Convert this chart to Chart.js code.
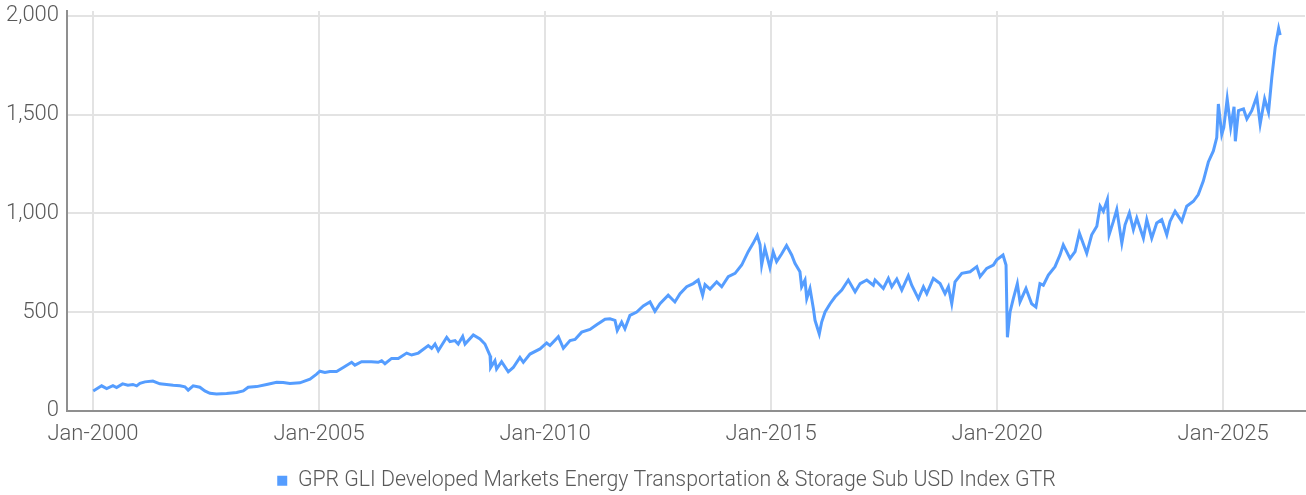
<!DOCTYPE html>
<html>
<head>
<meta charset="utf-8">
<script src="https://cdn.jsdelivr.net/npm/chart.js"></script>
<style>
  html, body { margin: 0; padding: 0; background: #fff; }
  #chart { display: block; }
</style>
</head>
<body>
<canvas id="chart" width="1306" height="495"></canvas>
<script>
const seriesName = 'GPR GLI Developed Markets Energy Transportation & Storage Sub USD Index GTR';

const dates = [
  '2000-01-03','2000-03-10','2000-04-20','2000-06-10','2000-07-09','2000-08-27','2000-10-09','2000-11-19','2000-12-19',
  '2001-01-15','2001-02-25','2001-04-28','2001-06-24','2001-08-17','2001-10-10','2001-12-03',
  '2002-01-13','2002-02-09','2002-03-19','2002-05-12','2002-06-22','2002-08-02','2002-09-25','2002-12-15',
  '2003-03-05','2003-04-28','2003-06-07','2003-08-14','2003-11-04',
  '2004-01-24','2004-03-16','2004-05-09','2004-07-29','2004-10-19','2004-12-12',
  '2005-01-08','2005-02-18','2005-03-28','2005-05-21','2005-07-14','2005-09-21','2005-10-17','2005-12-10',
  '2006-02-28','2006-04-22','2006-05-20','2006-06-16','2006-08-09','2006-10-02','2006-12-09',
  '2007-01-19','2007-03-12','2007-06-01','2007-06-28','2007-07-25','2007-08-21','2007-10-28','2007-11-24',
  '2008-01-04','2008-01-30','2008-03-05','2008-03-24','2008-05-30','2008-07-23','2008-09-02','2008-10-13','2008-10-18','2008-11-22','2008-12-05',
  '2009-01-15','2009-03-08','2009-04-18','2009-06-11','2009-07-08','2009-09-01','2009-11-21',
  '2010-01-14','2010-02-10','2010-04-17','2010-05-27','2010-07-20','2010-08-30','2010-10-23','2010-12-29',
  '2011-02-22','2011-04-29','2011-06-08','2011-07-18','2011-08-06','2011-09-11','2011-10-07','2011-11-17',
  '2012-01-11','2012-03-03','2012-04-27','2012-06-06','2012-07-16','2012-09-22','2012-11-15','2012-12-26',
  '2013-02-19','2013-04-11','2013-05-21','2013-06-26','2013-07-15','2013-08-25','2013-10-18','2013-11-28',
  '2014-01-20','2014-03-14','2014-05-07','2014-06-29','2014-08-09','2014-09-11','2014-10-03','2014-10-16','2014-11-12','2014-12-22',
  '2015-01-18','2015-02-15','2015-03-26','2015-05-04','2015-06-15','2015-07-11','2015-08-21','2015-09-04','2015-10-01','2015-10-15','2015-11-11','2015-12-08','2015-12-21',
  '2016-01-25','2016-02-14','2016-03-11','2016-04-21','2016-06-01','2016-07-24','2016-09-16','2016-11-10','2016-12-20',
  '2017-02-13','2017-04-05','2017-04-19','2017-06-25','2017-08-05','2017-09-02','2017-10-12','2017-11-22',
  '2018-01-14','2018-02-11','2018-04-04','2018-05-14','2018-06-11','2018-08-03','2018-09-27','2018-11-06','2018-12-03','2018-12-30',
  '2019-01-26','2019-03-20','2019-05-26','2019-07-19','2019-08-15','2019-10-08','2019-12-01','2019-12-28',
  '2020-02-18','2020-03-12','2020-03-23','2020-04-14','2020-05-10','2020-06-12','2020-07-03','2020-08-21','2020-10-06','2020-11-10','2020-12-12',
  '2021-01-09','2021-02-19','2021-04-12','2021-05-22','2021-06-18','2021-08-12','2021-09-22','2021-10-26','2021-12-25',
  '2022-02-04','2022-03-15','2022-04-11','2022-05-07','2022-06-09','2022-06-23','2022-07-27','2022-08-24','2022-10-04','2022-10-30','2022-12-04',
  '2023-01-06','2023-02-03','2023-03-26','2023-04-23','2023-06-02','2023-07-12','2023-08-22','2023-10-02','2023-10-28','2023-12-08',
  '2024-02-01','2024-03-11','2024-05-04','2024-06-13','2024-07-23','2024-09-03','2024-10-13','2024-11-10','2024-11-23','2024-12-20',
  '2025-01-06','2025-02-03','2025-03-01','2025-03-28','2025-04-08','2025-05-03','2025-06-13','2025-07-10','2025-08-19','2025-09-29','2025-10-26','2025-12-01',
  '2026-01-02','2026-01-29','2026-02-26','2026-03-23','2026-04-05'
];

const values = [
  100,126,112,127,117,136,129,133,126,
  139,146,150,136,133,129,126,
  121,104,126,119,100,88,85,87,
  92,100,119,122,133,
  144,143,138,141,160,185,
  200,194,199,199,219,245,231,248,
  248,245,253,238,265,265,292,
  282,292,330,316,338,304,372,350,
  355,338,376,338,384,364,338,279,219,253,211,
  248,197,219,270,245,287,313,
  343,330,375,316,355,361,398,412,
  435,463,466,458,407,449,415,483,
  500,531,551,504,542,585,551,593,
  628,644,662,585,639,616,653,628,
  679,696,738,806,849,888,840,738,823,725,
  805,755,795,837,789,747,704,628,662,568,619,517,458,
  389,449,500,542,577,611,662,602,644,
  662,636,662,619,670,628,667,611,
  684,636,568,628,593,670,644,593,628,542,
  653,696,704,730,679,721,738,764,
  789,738,372,500,568,644,551,619,542,525,644,
  636,687,730,789,840,772,806,900,798,
  891,934,1036,1010,1070,891,959,1019,849,942,1002,
  917,976,874,968,874,951,968,891,959,1010,
  959,1036,1061,1095,1163,1260,1316,1384,1554,1400,
  1435,1580,1435,1540,1365,1520,1529,1478,1520,1592,1452,1580,
  1512,1690,1843,1937,1903
];

const xTickYears = [2000, 2005, 2010, 2015, 2020, 2025];
const yTicks = [0, 500, 1000, 1500, 2000];

function toYear(s) {
  const [y, m, d] = s.split('-').map(Number);
  return y + (m - 1) / 12 + (d - 1) / 365.25;
}

const points = dates.map((d, i) => ({ x: toYear(d), y: values[i] }));

const textColor = '#595959';
const gridColor = '#e3e3e3';
const axisColor = '#8f8f8f';
const lineColor = '#559dff';
const fontFamily = 'Roboto, "Noto Sans", sans-serif';

// the original legend sits a little right of the canvas centre
const nudgeLegend = {
  id: 'nudgeLegend',
  afterLayout(chart) {
    const l = chart.legend;
    if (l) { l.left += 14; l.right += 14; }
  }
};

new Chart(document.getElementById('chart').getContext('2d'), {
  type: 'line',
  data: {
    datasets: [{
      label: seriesName,
      data: points,
      borderColor: lineColor,
      backgroundColor: lineColor,
      borderWidth: 3,
      pointRadius: 0,
      tension: 0
    }]
  },
  options: {
    responsive: false,
    animation: false,
    layout: { padding: { top: 11, right: 1, left: 0, bottom: -6.5 } },
    plugins: {
      tooltip: { enabled: false },
      legend: {
        position: 'bottom',
        labels: {
          color: textColor,
          font: { family: fontFamily, size: 21.3, weight: '300' },
          boxWidth: 10,
          boxHeight: 10,
          padding: 2,
          generateLabels: (chart) => [{
            text: seriesName,
            fillStyle: lineColor,
            strokeStyle: lineColor,
            lineWidth: 0,
            fontColor: textColor,
            datasetIndex: 0
          }]
        }
      }
    },
    scales: {
      x: {
        type: 'linear',
        min: 1999.425,
        max: 2026.81,
        afterBuildTicks: (scale) => { scale.ticks = xTickYears.map(v => ({ value: v })); },
        afterFit: (scale) => { scale.height = 57.5; },
        ticks: {
          color: textColor,
          font: { family: fontFamily, size: 22, weight: '300' },
          padding: 11,
          maxRotation: 0,
          autoSkip: false,
          callback: (v) => 'Jan-' + v
        },
        grid: { color: gridColor, lineWidth: 2, drawTicks: false },
        border: { color: axisColor, width: 2 }
      },
      y: {
        min: 0,
        max: 2025,
        afterBuildTicks: (scale) => { scale.ticks = yTicks.map(v => ({ value: v })); },
        afterFit: (scale) => {
          scale.width = 67;
          scale.paddingTop = 0;
          scale.paddingBottom = 0;
        },
        ticks: {
          color: textColor,
          font: { family: fontFamily, size: 22, weight: '300' },
          padding: 8,
          callback: (v) => v.toLocaleString('en-US')
        },
        grid: { color: gridColor, lineWidth: 2, drawTicks: false },
        border: { color: axisColor, width: 2 }
      }
    }
  },
  plugins: [nudgeLegend]
});
</script>
</body>
</html>
